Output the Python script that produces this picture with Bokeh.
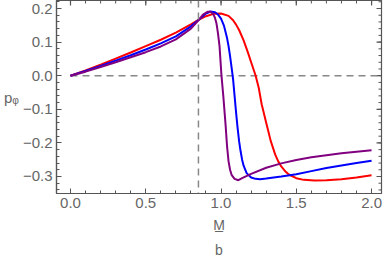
import math
from bokeh.plotting import figure
from bokeh.models import Range1d, LinearAxis, Span, FixedTicker
from bokeh.embed import file_html
from bokeh.resources import INLINE

# ---- data ----
red_x = [0, 0.1, 0.2, 0.3, 0.4, 0.5, 0.6, 0.7, 0.8, 0.85, 0.9, 0.95, 1.0, 1.05, 1.08, 1.1, 1.12, 1.15,
         1.18, 1.2, 1.23, 1.25, 1.27, 1.3, 1.33, 1.36, 1.38, 1.4, 1.43, 1.45, 1.5, 1.55, 1.62, 1.7,
         1.8, 1.9, 2.0]
red_y = [0, 0.016, 0.033, 0.051, 0.069, 0.088, 0.107, 0.128, 0.153, 0.166, 0.177, 0.184, 0.185, 0.178,
         0.165, 0.152, 0.136, 0.105, 0.067, 0.040, 0.0, -0.035, -0.085, -0.140, -0.194, -0.235,
         -0.255, -0.270, -0.286, -0.294, -0.305, -0.310, -0.312, -0.311, -0.308, -0.303, -0.296]

blue_x = [0, 0.1, 0.2, 0.3, 0.4, 0.5, 0.6, 0.7, 0.8, 0.85, 0.9, 0.93, 0.96, 0.98, 1.0, 1.02, 1.04,
          1.05, 1.06, 1.07, 1.08, 1.09, 1.1, 1.11, 1.12, 1.13, 1.14, 1.15, 1.17, 1.2, 1.23, 1.26,
          1.3, 1.4, 1.5, 1.6, 1.7, 1.8, 1.9, 2.0]
blue_y = [0, 0.014, 0.029, 0.045, 0.061, 0.078, 0.096, 0.117, 0.147, 0.166, 0.185, 0.191, 0.189,
          0.182, 0.170, 0.148, 0.112, 0.088, 0.058, 0.025, -0.010, -0.060, -0.110, -0.155, -0.195,
          -0.225, -0.250, -0.268, -0.290, -0.303, -0.307, -0.308, -0.306, -0.300, -0.293, -0.284,
          -0.275, -0.267, -0.260, -0.253]

purple_x = [0, 0.1, 0.2, 0.3, 0.4, 0.5, 0.6, 0.7, 0.8, 0.85, 0.88, 0.91, 0.93, 0.95, 0.96, 0.97,
            0.98, 0.99, 1.003, 1.015, 1.03, 1.04, 1.05, 1.06, 1.07, 1.09, 1.115, 1.14, 1.2, 1.3,
            1.4, 1.5, 1.6, 1.7, 1.8, 1.9, 2.0]
purple_y = [0, 0.012, 0.026, 0.040, 0.055, 0.070, 0.087, 0.108, 0.140, 0.165, 0.182, 0.190, 0.190,
            0.182, 0.172, 0.155, 0.125, 0.088, 0.0, -0.060, -0.145, -0.210, -0.255, -0.280, -0.295,
            -0.307, -0.311, -0.305, -0.292, -0.274, -0.261, -0.251, -0.243, -0.237, -0.231, -0.226,
            -0.222]

ref_x = 0.85          # vertical dashed line
x_ticks = [0, 0.5, 1.0, 1.5, 2.0]
x_tick_labels = ["0.0", "0.5", "1.0", "1.5", "2.0"]
y_ticks = [-0.3, -0.2, -0.1, 0.0, 0.1, 0.2]
y_tick_labels = ["\u22120.3", "\u22120.2", "\u22120.1", "0.0", "0.1", "0.2"]
x_minor = [i / 10 for i in range(-1, 21)]
y_minor = [i / 50 for i in range(-17, 12)]

X0, X1 = -0.093, 2.066
Y0, Y1 = -0.3506, 0.2238

FONT = "Liberation Sans"
AX = "#555555"
LBL = "#666666"
DASH = "#888888"

p = figure(frame_width=325, frame_height=193, output_backend="svg", toolbar_location=None,
           x_range=Range1d(X0, X1), y_range=Range1d(Y0, Y1),
           min_border_left=50, min_border_right=2, min_border_top=0, min_border_bottom=50,
           x_axis_type=None, y_axis_type=None)
p.grid.visible = False
p.outline_line_color = AX
p.outline_line_width = 1.2
p.background_fill_color = "white"
p.border_fill_color = "white"

def make_axis(ticks, minor, labels):
    ax = LinearAxis(ticker=FixedTicker(ticks=ticks, minor_ticks=minor))
    ax.major_tick_in = 5
    ax.major_tick_out = 0
    ax.minor_tick_in = 3
    ax.minor_tick_out = 0
    ax.axis_line_color = AX
    ax.axis_line_width = 1.2
    ax.major_tick_line_color = AX
    ax.minor_tick_line_color = AX
    ax.major_label_text_font = FONT
    ax.major_label_text_color = LBL
    ax.major_label_overrides = {t: l for t, l in zip(ticks, labels)}
    ax.major_label_text_font_size = "15px"
    ax.major_label_standoff = 4
    ax.axis_label_text_font = FONT
    ax.axis_label_text_font_size = "14px"
    ax.axis_label_text_font_style = "normal"
    ax.axis_label_text_color = LBL
    return ax

xb = make_axis(x_ticks, x_minor, x_tick_labels)
xb.axis_label = "M\u0332\nb"
xb.axis_label_standoff = 6
xb.axis_label_text_line_height = 1.6
p.add_layout(xb, "below")

yl = make_axis(y_ticks, y_minor, y_tick_labels)
yl.axis_label = "p\u1d69"
yl.axis_label_text_font_size = "15px"
yl.axis_label_orientation = "horizontal"
yl.axis_label_standoff = 1
p.add_layout(yl, "left")

# frame ticks on top and right (dash markers centred on the frame edge; outer half is clipped)
p.scatter(x=x_ticks, y=[Y1] * len(x_ticks), marker="dash", angle=math.pi / 2, size=10,
          line_color=AX, line_width=1.2)
p.scatter(x=x_minor, y=[Y1] * len(x_minor), marker="dash", angle=math.pi / 2, size=6,
          line_color=AX, line_width=1)
p.scatter(x=[X1] * len(y_ticks), y=y_ticks, marker="dash", size=10, line_color=AX, line_width=1.2)
p.scatter(x=[X1] * len(y_minor), y=y_minor, marker="dash", size=6, line_color=AX, line_width=1)

# reference lines
p.segment(x0=[0], y0=[0], x1=[X1], y1=[0], line_color=DASH, line_dash="7 5", line_width=1.5)
p.add_layout(Span(location=ref_x, dimension="height", line_color=DASH,
                  line_dash="7 5", line_width=1.5))

p.line(red_x, red_y, line_color="#ff0000", line_width=2)
p.line(blue_x, blue_y, line_color="#0000ff", line_width=2)
p.line(purple_x, purple_y, line_color="#800080", line_width=2)

open("out.html", "w").write(file_html(p, INLINE))
